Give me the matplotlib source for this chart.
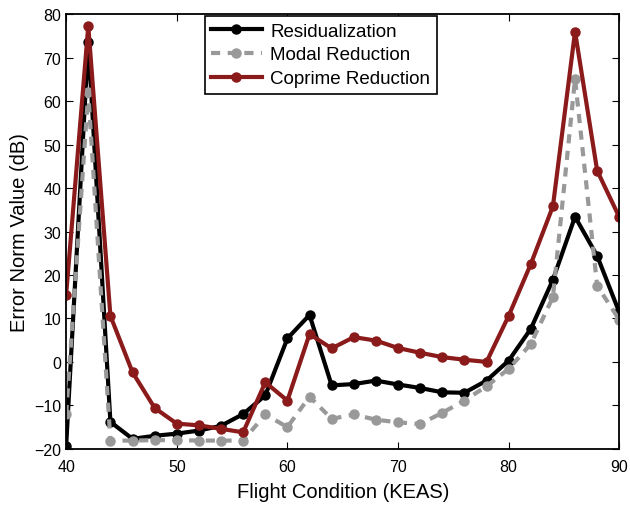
import numpy as np
import matplotlib
matplotlib.use("Agg")
import matplotlib.pyplot as plt

plt.rcParams['font.family'] = ['Liberation Sans', 'DejaVu Sans']

keas = np.arange(40, 91, 2)
residualization = [-19.3, 73.6, -13.8, -17.7, -17.0, -16.5, -15.8, -14.7, -12.0, -7.7,
                   5.4, 10.8, -5.4, -5.1, -4.3, -5.2, -6.0, -7.0, -7.1, -4.3,
                   0.3, 7.6, 18.9, 33.4, 24.4, 11.4]
modal = [-12.0, 62.0, -18.1, -18.1, -18.0, -18.0, -18.1, -18.1, -18.1, -12.1,
         -15.0, -8.0, -13.1, -12.1, -13.3, -13.9, -14.3, -11.7, -8.9, -5.6,
         -1.6, 4.1, 14.9, 65.1, 17.5, 9.7]
coprime = [15.5, 77.3, 10.6, -2.4, -10.6, -14.2, -14.6, -15.4, -16.2, -4.7,
           -8.9, 6.4, 3.1, 5.7, 4.9, 3.2, 2.1, 1.1, 0.5, 0.0,
           10.6, 22.5, 35.8, 76.0, 44.0, 33.3]

fig = plt.figure(figsize=(6.3, 5.06), dpi=100)
ax = fig.add_axes([0.105, 0.111, 0.878, 0.859])

ax.plot(keas, residualization, color='black', lw=3, marker='o', ms=6.5,
        label='Residualization')
ax.plot(keas, modal, color='#999999', lw=3, ls=(0, (2.2, 1.8)), marker='o', ms=6.5,
        label='Modal Reduction')
ax.plot(keas, coprime, color='#8B1A1A', lw=3, marker='o', ms=6.5,
        label='Coprime Reduction')

ax.set_xlim(40, 90)
ax.set_ylim(-20, 80)
ax.set_xticks(range(40, 91, 10))
ax.set_yticks(range(-20, 81, 10))
ax.tick_params(direction='in', top=True, right=True, labelsize=11.5, length=5)
ax.tick_params(axis='x', pad=7)
for s in ax.spines.values():
    s.set_linewidth(1.3)

ax.set_xlabel('Flight Condition (KEAS)', fontsize=14.5, labelpad=6)
ax.set_ylabel('Error Norm Value (dB)', fontsize=14.5, labelpad=4)

leg = ax.legend(loc='upper center', bbox_to_anchor=(0.46, 1.0), fontsize=13.5,
                fancybox=False, framealpha=1, edgecolor='black',
                handlelength=2.7, handletextpad=0.45, borderpad=0.35,
                labelspacing=0.35, borderaxespad=0.1)
leg.get_frame().set_linewidth(1.2)

fig.savefig('out.png', dpi=100)
